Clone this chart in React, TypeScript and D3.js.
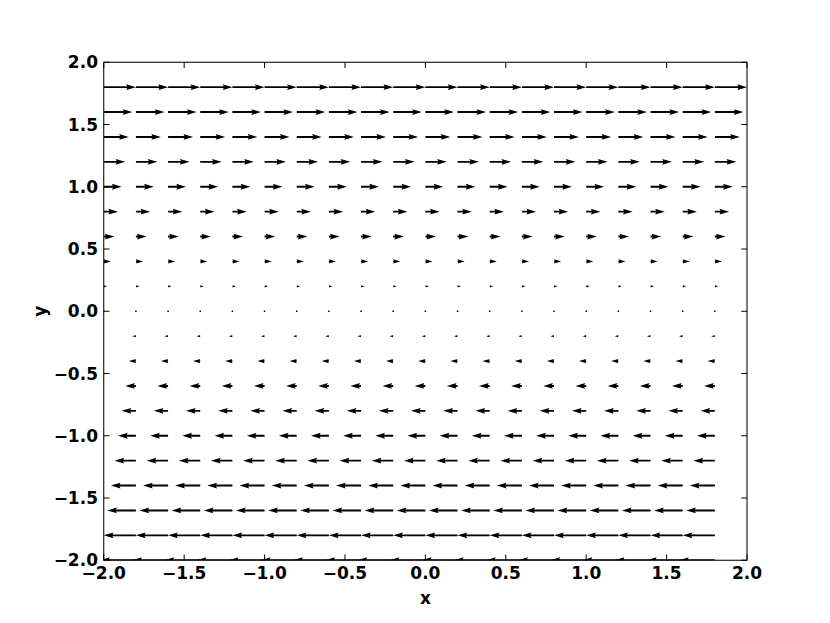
import React from 'react';
import * as d3 from 'd3';

// Grid positions of the arrow tails
const xGrid = [-2.0, -1.8, -1.6, -1.4, -1.2, -1.0, -0.8, -0.6, -0.4, -0.2, 0.0, 0.2, 0.4, 0.6, 0.8, 1.0, 1.2, 1.4, 1.6, 1.8];
const yGrid = [-2.0, -1.8, -1.6, -1.4, -1.2, -1.0, -0.8, -0.6, -0.4, -0.2, 0.0, 0.2, 0.4, 0.6, 0.8, 1.0, 1.2, 1.4, 1.6, 1.8];
// Horizontal component for each row (same for every column of a row)
const uByRow = [-2.0, -1.8, -1.6, -1.4, -1.2, -1.0, -0.8, -0.6, -0.4, -0.2, 0.0, 0.2, 0.4, 0.6, 0.8, 1.0, 1.2, 1.4, 1.6, 1.8];
// Vertical component for each row
const vByRow = [0, 0, 0, 0, 0, 0, 0, 0, 0, 0, 0, 0, 0, 0, 0, 0, 0, 0, 0, 0];

const xTicks = [-2.0, -1.5, -1.0, -0.5, 0.0, 0.5, 1.0, 1.5, 2.0];
const yTicks = [-2.0, -1.5, -1.0, -0.5, 0.0, 0.5, 1.0, 1.5, 2.0];

const W = 830;
const H = 623;
const left = 103.75;
const right = 747;
const top = 62.25;
const bottom = 560.25;

const fmt = (v: number) => {
  const s = Math.abs(v).toFixed(1);
  return v < 0 ? '\u2212' + s : s;
};

export default function App() {
  const x = d3.scaleLinear().domain([-2, 2]).range([left, right]);
  const y = d3.scaleLinear().domain([-2, 2]).range([bottom, top]);

  const span = right - left;
  const N = xGrid.length * yGrid.length;
  const sn = Math.max(8, Math.min(25, Math.sqrt(N)));
  const widthPx = (0.06 / sn) * span;
  // autoscale (matplotlib style)
  const mags: number[] = [];
  yGrid.forEach((_, j) => xGrid.forEach(() => mags.push(Math.hypot(uByRow[j], vByRow[j]))));
  const amean = d3.mean(mags) as number;
  const scale = (1.8 * amean * sn) / 1; // magnitude per axes width
  const headwidth = 3, headlength = 5, headaxislength = 4.5, minshaft = 1, minlength = 1;
  const minsh = minshaft * headlength;

  const arrowPath = (mag: number) => {
    const L = ((mag / scale) * span) / widthPx; // length in shaft-width units
    let pts: [number, number][];
    if (L < minlength) {
      pts = d3.range(8).map((k) => {
        const th = (k * Math.PI) / 3;
        return [Math.cos(th) * minlength * 0.5, Math.sin(th) * minlength * 0.5] as [number, number];
      });
    } else {
      let xs: number[], ys: number[];
      if (L < minsh) {
        const s = L / minsh;
        xs = [0, minsh - headaxislength, minsh - headlength, minsh].map((v) => v * s);
        ys = [0.5, 0.5, 0.5 * headwidth, 0].map((v) => v * s);
      } else {
        xs = [0, L - headaxislength, L - headlength, L];
        ys = [0.5, 0.5, 0.5 * headwidth, 0];
      }
      const ii = [0, 1, 2, 3, 2, 1, 0, 0];
      pts = ii.map((i, k) => [xs[i], k >= 3 && k < 7 ? -ys[i] : ys[i]] as [number, number]);
    }
    return 'M' + pts.map((p) => `${(p[0] * widthPx).toFixed(3)},${(p[1] * widthPx).toFixed(3)}`).join('L') + 'Z';
  };

  const arrows: { key: string; tx: number; ty: number; ang: number; d: string }[] = [];
  yGrid.forEach((yv, j) => {
    xGrid.forEach((xv, i) => {
      const u = uByRow[j];
      const v = vByRow[j];
      const mag = Math.hypot(u, v);
      arrows.push({
        key: `${i}-${j}`,
        tx: x(xv),
        ty: y(yv),
        ang: (-Math.atan2(v, u) * 180) / Math.PI,
        d: arrowPath(mag),
      });
    });
  });

  const tickLen = 5.76;
  const pad = 5.76;
  const fontSize = 17;
  const font = '"DejaVu Sans", sans-serif';

  return (
    <svg width={W} height={H} style={{ position: 'absolute', left: 0, top: 0, background: '#fff' }}>
      <rect x={0} y={0} width={W} height={H} fill="#fff" />
      <defs>
        <clipPath id="axclip">
          <rect x={left} y={top} width={right - left} height={bottom - top} />
        </clipPath>
      </defs>
      <g clipPath="url(#axclip)">
        {arrows.map((a) => (
          <path key={a.key} d={a.d} transform={`translate(${a.tx},${a.ty}) rotate(${a.ang})`} fill="#000" />
        ))}
      </g>
      {/* ticks */}
      <g stroke="#000" strokeWidth={1}>
        {xTicks.map((t) => (
          <g key={'xt' + t}>
            <line x1={x(t)} x2={x(t)} y1={bottom} y2={bottom - tickLen} />
            <line x1={x(t)} x2={x(t)} y1={top} y2={top + tickLen} />
          </g>
        ))}
        {yTicks.map((t) => (
          <g key={'yt' + t}>
            <line x1={left} x2={left + tickLen} y1={y(t)} y2={y(t)} />
            <line x1={right} x2={right - tickLen} y1={y(t)} y2={y(t)} />
          </g>
        ))}
      </g>
      <rect x={left} y={top} width={right - left} height={bottom - top} fill="none" stroke="#000" strokeWidth={1.04} />
      <g fontFamily={font} fontWeight="bold" fontSize={fontSize} fill="#000">
        {xTicks.map((t) => (
          <text key={'xl' + t} x={x(t)} y={bottom + pad} textAnchor="middle" dominantBaseline="hanging">
            {fmt(t)}
          </text>
        ))}
        {yTicks.map((t) => (
          <text key={'yl' + t} x={left - pad} y={y(t)} textAnchor="end" dominantBaseline="central">
            {fmt(t)}
          </text>
        ))}
        <text x={(left + right) / 2} y={598} textAnchor="middle" dominantBaseline="central">
          x
        </text>
        <text transform={`translate(40,${(top + bottom) / 2}) rotate(-90)`} textAnchor="middle" dominantBaseline="central">
          y
        </text>
      </g>
    </svg>
  );
}
